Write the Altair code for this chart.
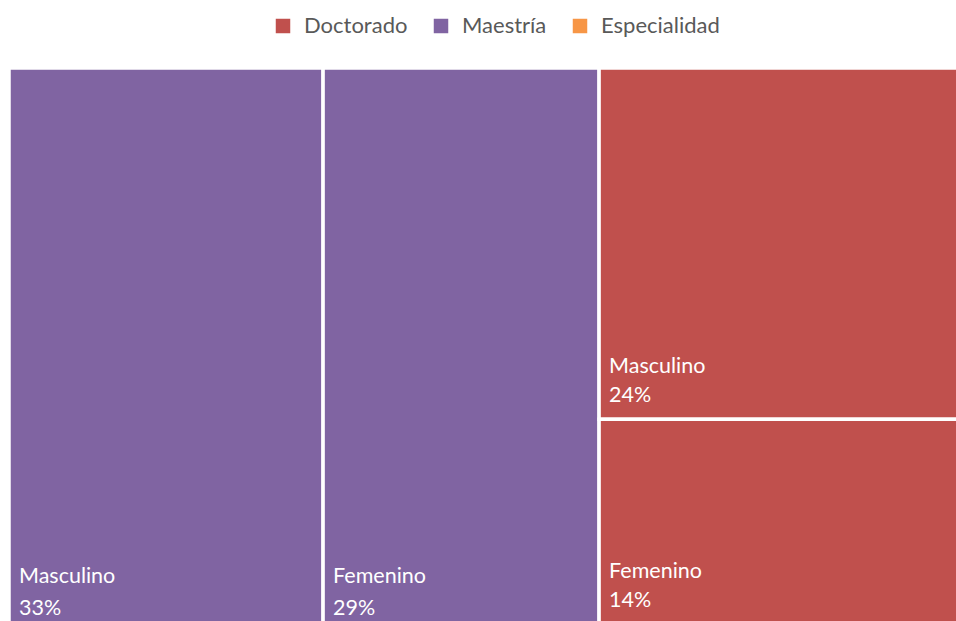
import altair as alt
import pandas as pd

# Data
groups = ["Maestría", "Maestría", "Doctorado", "Doctorado"]
sexes = ["Masculino", "Femenino", "Masculino", "Femenino"]
values = [33, 29, 24, 14]
legend_order = ["Doctorado", "Maestría", "Especialidad"]
legend_colors = ["#C0504D", "#8064A2", "#F79646"]

# Build treemap geometry (Maestría children side by side,
# Doctorado children stacked vertically), in data units
total = sum(values)
rows = []
xcur = 0.0
for g in ["Maestría", "Doctorado"]:
    idx = [i for i, gg in enumerate(groups) if gg == g]
    gsum = sum(values[i] for i in idx)
    gw = gsum / total * 100
    if g == "Maestría":
        xx = xcur
        for i in idx:
            w = values[i] / gsum * gw
            rows.append(dict(group=g, sex=sexes[i], value=values[i],
                             x0=xx, x1=xx + w, y0=0.0, y1=100.0))
            xx += w
    else:
        yy = 0.0
        for i in idx:
            h = values[i] / gsum * 100
            rows.append(dict(group=g, sex=sexes[i], value=values[i],
                             x0=xcur, x1=xcur + gw, y0=yy, y1=yy + h))
            yy += h
    xcur += gw

df = pd.DataFrame(rows)
df["pct"] = df["value"].astype(str) + "%"

FONT = "Lato"

# slightly tighter domains so the outer white strokes fall outside the clipped view
xs = alt.Scale(domain=[0, 99.5], nice=False, zero=False)
ys = alt.Scale(domain=[0, 99.4], nice=False, zero=False, reverse=True)

base = alt.Chart(df)

rects = base.mark_rect(stroke="white", strokeWidth=3.5, clip=True).encode(
    x=alt.X("x0:Q", scale=xs, axis=None),
    x2="x1:Q",
    y=alt.Y("y0:Q", scale=ys, axis=None),
    y2="y1:Q",
    color=alt.Color(
        "group:N",
        scale=alt.Scale(domain=legend_order, range=legend_colors),
        legend=alt.Legend(
            title=None,
            orient="none",
            direction="horizontal",
            legendX=263,
            legendY=-53,
            symbolType="square",
            symbolSize=210,
            symbolStrokeWidth=0,
            labelFont=FONT,
            labelFontSize=22,
            labelColor="#595959",
            labelOffset=10,
            columnPadding=22,
        ),
    ),
)

def labels(group, name_dy, pct_dy):
    b = base.transform_filter(alt.datum.group == group)
    t1 = b.mark_text(align="left", baseline="alphabetic", dx=10, dy=name_dy,
                     color="white", font=FONT, fontSize=21.5).encode(
        x=alt.X("x0:Q", scale=xs), y=alt.Y("y1:Q", scale=ys), text="sex:N")
    t2 = b.mark_text(align="left", baseline="alphabetic", dx=10, dy=pct_dy,
                     color="white", font=FONT, fontSize=21.5).encode(
        x=alt.X("x0:Q", scale=xs), y=alt.Y("y1:Q", scale=ys), text="pct:N")
    return t1 + t2

chart = alt.layer(
    rects,
    labels("Maestría", -41, -9),
    labels("Doctorado", -46, -17),
).properties(
    width=947,
    height=553,
    padding={"left": 9, "top": 68, "right": 0, "bottom": 0},
    autosize=alt.AutoSizeParams(type="none"),
    background="white",
).configure_view(stroke=None)

chart.save("out.html", embed_options={"renderer": "svg", "actions": False})
